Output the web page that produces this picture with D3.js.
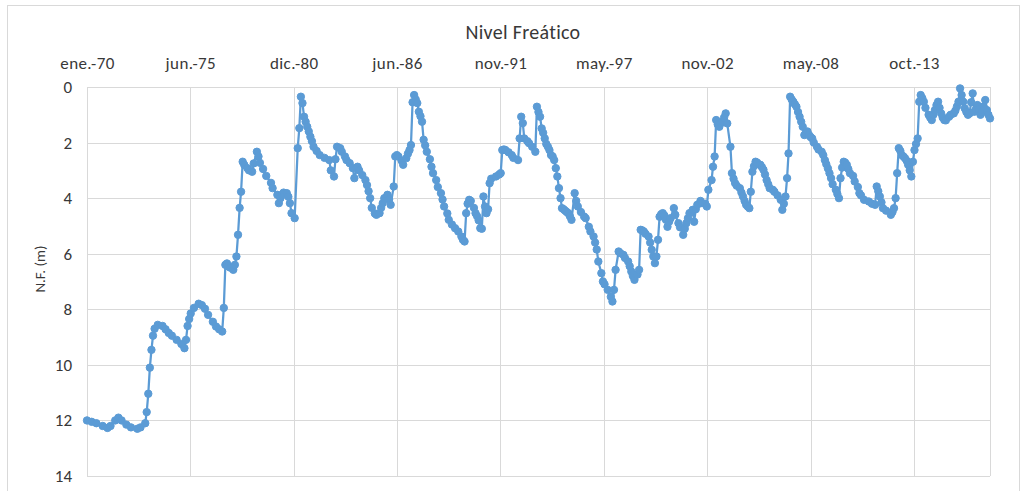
<!doctype html>
<html>
<head>
<meta charset="utf-8">
<style>
    body { margin: 0; background: #fff; }
    text { font-family: Carlito, Lato, "Open Sans", sans-serif; fill: #383838; font-variant-ligatures: none; }
    .grid line { stroke: #d9d9d9; stroke-width: 1; }
    .serie { fill: none; stroke: #5b9bd5; stroke-width: 2.25; }
    .punto { fill: #5b9bd5; stroke: #5b9bd5; stroke-width: 1; }
</style>
<script src="https://d3js.org/d3.v7.min.js"></script>
</head>
<body>
<svg width="1025" height="491"></svg>
<script>

    // fechas de medicion (año-mes) y nivel freatico en metros
    var fechas = [
        "1970-01","1970-04","1970-07","1970-11",
        "1971-02","1971-04","1971-07","1971-09","1971-11",
        "1972-02","1972-05","1972-09","1972-11",
        "1973-02","1973-03","1973-04","1973-05","1973-06","1973-07","1973-08","1973-10",
        "1974-01","1974-03","1974-05","1974-07","1974-10",
        "1975-01","1975-03","1975-04","1975-05","1975-06","1975-07","1975-09","1975-12",
        "1976-02","1976-04","1976-06","1976-09","1976-11",
        "1977-01","1977-03","1977-04","1977-05","1977-06","1977-07","1977-08","1977-10","1977-11","1977-12",
        "1978-01","1978-02","1978-03","1978-04","1978-05","1978-07","1978-08","1978-10","1978-11",
        "1979-01","1979-02","1979-03","1979-05","1979-07","1979-10","1979-11",
        "1980-02","1980-03","1980-04","1980-05","1980-06","1980-08","1980-09","1980-10","1980-11",
        "1981-01","1981-03","1981-04","1981-05","1981-06","1981-07","1981-08","1981-09","1981-10","1981-11","1981-12",
        "1982-01","1982-03","1982-05","1982-08","1982-11","1982-12",
        "1983-02","1983-03","1983-04","1983-06","1983-07","1983-09","1983-10","1983-12",
        "1984-02","1984-03","1984-05","1984-06","1984-08","1984-10","1984-11","1984-12",
        "1985-01","1985-02","1985-04","1985-05","1985-07","1985-08","1985-09","1985-10","1985-12",
        "1986-01","1986-02","1986-04","1986-05","1986-06","1986-07","1986-09","1986-10","1986-12",
        "1987-01","1987-02","1987-03","1987-04","1987-05","1987-06","1987-07","1987-08","1987-09","1987-10","1987-11","1987-12",
        "1988-01","1988-03","1988-04","1988-05","1988-07","1988-08","1988-10","1988-11","1988-12",
        "1989-02","1989-03","1989-05","1989-07","1989-09","1989-11","1989-12",
        "1990-01","1990-02","1990-03","1990-04","1990-05","1990-07","1990-08","1990-09","1990-10","1990-11","1990-12",
        "1991-01","1991-02","1991-03","1991-04","1991-05","1991-06","1991-09","1991-11","1991-12",
        "1992-01","1992-02","1992-03","1992-05","1992-07","1992-08","1992-11","1992-12",
        "1993-01","1993-02","1993-03","1993-05","1993-06","1993-08","1993-10","1993-11","1993-12",
        "1994-01","1994-02","1994-03","1994-04","1994-05","1994-06","1994-07","1994-08","1994-09","1994-10","1994-11","1994-12",
        "1995-01","1995-02","1995-03","1995-04","1995-05","1995-06","1995-07","1995-08","1995-09","1995-11","1995-12",
        "1996-01","1996-03","1996-05","1996-06","1996-08","1996-09","1996-11","1996-12",
        "1997-01","1997-02","1997-04","1997-05","1997-06","1997-08","1997-10","1997-11","1997-12",
        "1998-01","1998-03","1998-04","1998-06","1998-07","1998-09","1998-10","1998-11","1998-12",
        "1999-01","1999-03","1999-04","1999-05","1999-06","1999-07","1999-08","1999-10","1999-11","1999-12",
        "2000-01","2000-02","2000-03","2000-04","2000-05","2000-06","2000-07","2000-08","2000-09","2000-10","2000-11","2000-12",
        "2001-02","2001-03","2001-05","2001-06","2001-08","2001-09","2001-10","2001-11","2001-12",
        "2002-02","2002-03","2002-04","2002-05","2002-07","2002-08","2002-10","2002-11","2002-12",
        "2003-02","2003-03","2003-04","2003-05","2003-06","2003-07","2003-08","2003-09","2003-10","2003-11","2003-12",
        "2004-02","2004-03","2004-04","2004-05","2004-06","2004-08","2004-09","2004-10","2004-11","2004-12",
        "2005-01","2005-02","2005-03","2005-04","2005-05","2005-06","2005-07","2005-09","2005-10","2005-11","2005-12",
        "2006-01","2006-02","2006-03","2006-05","2006-06","2006-08","2006-10","2006-11","2006-12",
        "2007-01","2007-02","2007-03","2007-04","2007-05","2007-06","2007-07","2007-08","2007-09","2007-10","2007-11","2007-12",
        "2008-01","2008-02","2008-03","2008-04","2008-05","2008-06","2008-07","2008-09","2008-10","2008-12",
        "2009-01","2009-02","2009-03","2009-04","2009-05","2009-06","2009-07","2009-09","2009-10","2009-11","2009-12",
        "2010-01","2010-02","2010-03","2010-04","2010-05","2010-06","2010-08","2010-09","2010-11","2010-12",
        "2011-01","2011-03","2011-06","2011-08","2011-10","2011-11","2011-12",
        "2012-01","2012-02","2012-03","2012-05","2012-08","2012-09","2012-10","2012-11","2012-12",
        "2013-01","2013-02","2013-03","2013-04","2013-05","2013-06","2013-07","2013-08","2013-09","2013-10","2013-11","2013-12",
        "2014-01","2014-02","2014-03","2014-04","2014-05","2014-06","2014-08","2014-09","2014-10","2014-11","2014-12",
        "2015-01","2015-02","2015-03","2015-04","2015-05","2015-06","2015-07","2015-09","2015-10","2015-12",
        "2016-01","2016-02","2016-03","2016-04","2016-05","2016-06","2016-07","2016-08","2016-09","2016-10","2016-11","2016-12",
        "2017-01","2017-02","2017-03","2017-04","2017-05","2017-06","2017-07","2017-08","2017-09","2017-10","2017-11"
    ];

    var nivel = [
        12.0,12.05,12.1,12.2,
        12.27,12.2,12.0,11.9,12.0,
        12.15,12.25,12.3,12.25,
        12.1,11.7,11.04,10.1,9.46,8.95,8.7,8.56,
        8.6,8.72,8.85,8.95,9.1,
        9.25,9.4,9.1,8.6,8.35,8.15,7.95,7.8,
        7.85,7.98,8.2,8.45,8.62,
        8.72,8.8,7.95,6.4,6.35,6.46,6.5,6.58,6.4,6.1,
        5.32,4.35,3.77,2.69,2.8,2.92,3.0,3.05,2.75,
        2.33,2.5,2.73,2.95,3.2,3.45,3.64,
        3.88,4.18,4.0,3.88,3.8,3.82,3.95,4.18,4.54,
        4.72,2.2,1.48,0.35,0.58,1.07,1.25,1.43,1.6,1.79,1.95,
        2.15,2.3,2.45,2.55,2.63,3.0,
        3.22,2.6,2.15,2.2,2.33,2.5,2.63,2.74,
        2.92,3.28,2.87,3.0,3.17,3.35,3.53,3.75,
        4.0,4.35,4.55,4.6,4.54,4.35,4.18,4.0,3.88,
        4.05,4.24,3.58,2.5,2.45,2.5,2.65,2.8,2.56,
        2.4,2.27,2.09,0.55,0.29,0.45,0.58,0.89,1.05,1.25,1.9,2.1,
        2.33,2.6,2.87,3.1,3.35,3.6,3.82,4.05,4.3,
        4.55,4.78,4.95,5.08,5.2,5.38,5.5,
        5.56,4.54,4.2,4.06,4.1,4.35,4.54,4.65,4.8,5.08,5.1,
        3.94,4.3,4.54,4.4,3.46,3.3,3.22,3.15,3.1,
        2.27,2.25,2.27,2.35,2.45,2.55,2.63,1.85,
        1.07,1.3,1.85,1.95,2.02,2.15,2.33,0.71,0.9,
        1.07,1.49,1.65,1.85,2.05,2.15,2.27,2.45,2.5,2.63,2.92,3.22,
        3.64,4.0,4.36,4.4,4.45,4.5,4.54,4.65,4.78,3.82,4.1,
        4.3,4.5,4.66,4.72,5.03,5.2,5.38,5.6,
        5.85,6.28,6.7,7.0,7.1,7.3,7.55,7.72,7.3,
        6.58,5.92,5.98,6.04,6.15,6.28,6.45,6.64,6.8,
        6.94,6.75,6.58,5.14,5.16,5.2,5.28,5.38,5.6,5.86,
        6.1,6.34,6.1,5.5,4.67,4.58,4.54,4.62,4.78,5.03,4.85,4.72,
        4.36,4.6,4.9,5.05,5.32,5.1,4.9,4.72,4.54,
        4.42,4.85,4.4,4.24,4.1,4.18,4.2,4.3,3.7,
        3.35,2.87,2.5,1.19,1.35,1.43,1.3,1.25,1.1,0.95,1.31,
        2.15,3.1,3.3,3.46,3.55,3.64,3.8,3.94,4.1,4.24,
        4.3,4.36,3.77,3.05,2.85,2.69,2.72,2.8,2.88,2.98,3.15,
        3.35,3.5,3.64,3.7,3.77,3.9,4.06,4.42,4.2,
        3.94,3.28,2.39,0.35,0.45,0.53,0.62,0.71,0.9,1.07,1.25,1.43,
        1.73,1.65,1.6,1.73,1.8,1.85,2.0,2.15,2.25,2.33,
        2.45,2.63,2.78,2.93,3.1,3.28,3.5,3.7,3.85,4.0,3.28,
        2.9,2.69,2.72,2.8,2.95,3.1,3.2,3.4,3.6,3.82,
        3.9,4.06,4.12,4.2,4.24,3.58,3.75,
        3.94,4.15,4.36,4.45,4.6,4.5,4.36,4.0,3.1,
        2.2,2.3,2.45,2.5,2.56,2.65,2.8,3.0,3.22,2.69,2.27,2.05,
        1.85,0.53,0.29,0.4,0.53,0.75,1.0,1.1,1.19,1.0,0.83,
        0.65,0.53,0.75,0.95,1.1,1.19,1.2,1.07,1.0,0.95,
        0.85,0.7,0.53,0.05,0.29,0.53,0.77,0.9,1.0,0.95,0.55,0.23,
        0.89,0.8,0.65,0.8,1.0,0.9,0.7,0.47,0.83,1.0,1.13
    ];

    // etiquetas del eje de fechas (Excel: una marca cada 2000 dias desde ene-70)
    var etiquetasX = ["ene.-70","jun.-75","dic.-80","jun.-86","nov.-91","may.-97","nov.-02","may.-08","oct.-13"];
    var marcasY = [0, 2, 4, 6, 8, 10, 12, 14];

    var parseMes = d3.timeParse("%Y-%m");
    var data = fechas.map(function(f, i) { return { fecha: parseMes(f), nf: nivel[i] }; });

    // ojo: "top" es global en el navegador, por eso otros nombres
    var svg = d3.select("svg"),
        x0 = 87, x1 = 990, y0 = 87, y1 = 476;

    svg.append("rect").attr("width", 1025).attr("height", 491).attr("fill", "#fff");
    // marco del grafico
    svg.append("rect")
       .attr("x", 7.5).attr("y", 5.5)
       .attr("width", 1012).attr("height", 500)
       .attr("fill", "none").attr("stroke", "#d9d9d9");

    var x = d3.scaleTime()
        .domain([data[0].fecha, data[data.length - 1].fecha])
        .range([x0, x1]);
    var y = d3.scaleLinear().domain([0, 14]).range([y0, y1]); // eje invertido, 0 arriba

    var marcasX = etiquetasX.map(function(e, i) { return d3.timeDay.offset(data[0].fecha, i * 2000); });

    // cuadricula
    var grid = svg.append("g").attr("class", "grid");
    grid.selectAll(".h").data(marcasY).enter().append("line")
        .attr("x1", x0).attr("x2", x1)
        .attr("y1", function(d) { return Math.round(y(d)) + 0.5; })
        .attr("y2", function(d) { return Math.round(y(d)) + 0.5; });
    grid.selectAll(".v").data(marcasX.concat([x.domain()[1]])).enter().append("line")
        .attr("y1", y0).attr("y2", y1)
        .attr("x1", function(d) { return Math.round(x(d)) + 0.5; })
        .attr("x2", function(d) { return Math.round(x(d)) + 0.5; });

    // eje de fechas arriba
    svg.append("g")
       .attr("transform", "translate(0," + y0 + ")")
       .call(d3.axisTop(x).tickValues(marcasX).tickSize(0).tickPadding(18)
             .tickFormat(function(d, i) { return etiquetasX[i]; }))
       .call(function(g) { g.select(".domain").remove(); })
       .selectAll("text").style("font-size", "17px").style("letter-spacing", "0.4px").attr("fill", "#383838");

    // eje de N.F.
    svg.append("g")
       .attr("transform", "translate(" + x0 + ",0)")
       .call(d3.axisLeft(y).tickValues(marcasY).tickSize(0).tickPadding(15))
       .call(function(g) { g.select(".domain").remove(); })
       .selectAll("text").style("font-size", "17px").attr("fill", "#383838");

    svg.append("text")
       .attr("x", 523).attr("y", 39)
       .attr("text-anchor", "middle")
       .style("font-size", "20px")
       .style("letter-spacing", "0.3px")
       .text("Nivel Freático");

    svg.append("text")
       .attr("transform", "translate(45,269)rotate(-90)")
       .attr("text-anchor", "middle")
       .style("font-size", "15px")
       .text("N.F. (m)");

    // serie
    var linea = d3.line()
        .x(function(d) { return x(d.fecha); })
        .y(function(d) { return y(d.nf); });

    svg.append("path").datum(data).attr("class", "serie").attr("d", linea);

    svg.selectAll(".punto").data(data).enter().append("circle")
       .attr("class", "punto")
       .attr("cx", function(d) { return x(d.fecha); })
       .attr("cy", function(d) { return y(d.nf); })
       .attr("r", 3.7);

</script>
</body>
</html>
